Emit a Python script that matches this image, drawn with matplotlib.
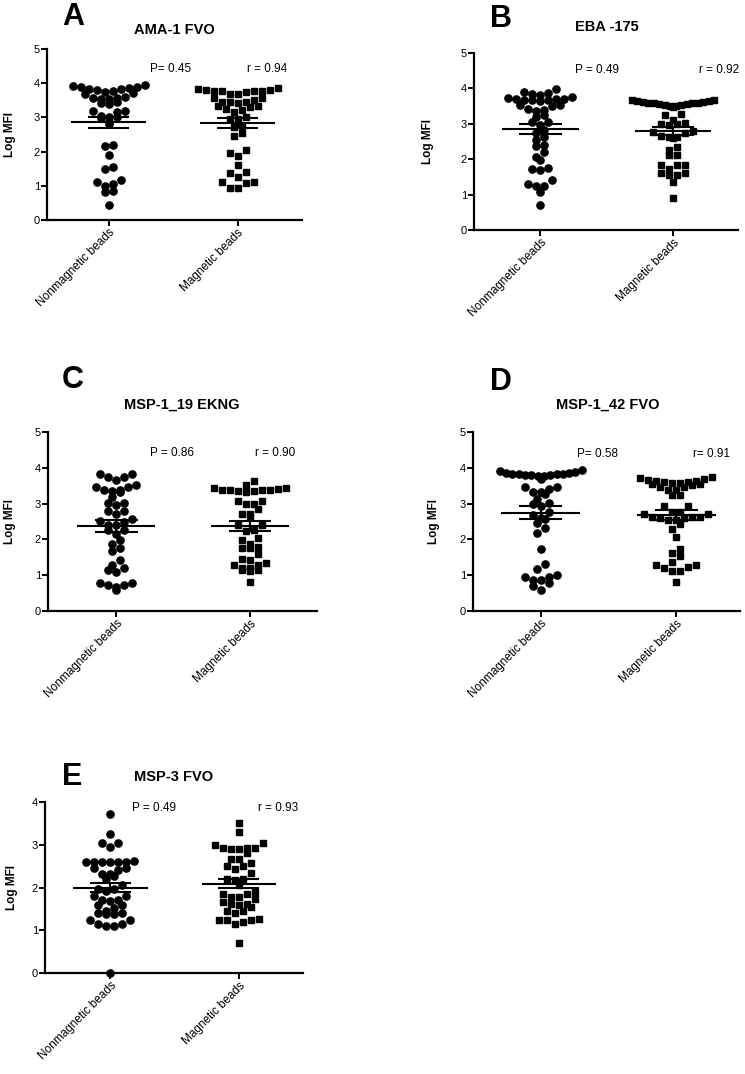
import numpy as np
import matplotlib.pyplot as plt

plt.rcParams['font.family'] = ['Liberation Sans', 'DejaVu Sans']

# ---- data (Log MFI) ----
groups = ['Nonmagnetic beads', 'Magnetic beads']
letters = ['A', 'B', 'C', 'D', 'E']
antigens = ['AMA-1 FVO', 'EBA -175', 'MSP-1_19 EKNG', 'MSP-1_42 FVO', 'MSP-3 FVO']
p_labels = ['P= 0.45', 'P = 0.49', 'P = 0.86', 'P= 0.58', 'P = 0.49']
r_labels = ['r = 0.94', 'r = 0.92', 'r = 0.90', 'r= 0.91', 'r = 0.93']
y_max = [5, 5, 5, 5, 4]

ama1_nonmag = [3.94, 3.92, 3.9, 3.9, 3.85, 3.82, 3.82, 3.8, 3.78, 3.75, 3.7, 3.68, 3.6,
               3.58, 3.58, 3.55, 3.55, 3.45, 3.42, 3.4, 3.2, 3.18, 3.15, 3.05, 3.02, 3.0,
               2.97, 2.87, 2.8, 2.2, 2.15, 1.9, 1.55, 1.5, 1.17, 1.1, 1.05, 1.0, 0.85,
               0.82, 0.45]
ama1_mag = [3.87, 3.82, 3.8, 3.8, 3.78, 3.78, 3.78, 3.78, 3.75, 3.68, 3.68, 3.56, 3.56,
            3.52, 3.45, 3.45, 3.45, 3.42, 3.33, 3.33, 3.3, 3.25, 3.22, 3.15, 3.02, 2.95,
            2.95, 2.75, 2.72, 2.55, 2.45, 2.05, 1.95, 1.88, 1.62, 1.4, 1.38, 1.25, 1.1,
            1.08, 1.1, 0.93, 0.93]
eba175_nonmag = [3.97, 3.9, 3.88, 3.85, 3.82, 3.75, 3.72, 3.7, 3.7, 3.7, 3.68, 3.68,
                 3.68, 3.65, 3.52, 3.52, 3.5, 3.43, 3.38, 3.36, 3.24, 3.18, 3.05, 3.05,
                 2.96, 2.82, 2.75, 2.63, 2.54, 2.4, 2.38, 2.2, 2.07, 1.98, 1.74, 1.72,
                 1.7, 1.4, 1.3, 1.25, 1.24, 1.08, 0.7]
eba175_mag = [3.63, 3.62, 3.6, 3.58, 3.56, 3.53, 3.5, 3.48, 3.5, 3.53, 3.56, 3.58, 3.6,
              3.62, 3.63, 3.68, 3.66, 3.27, 3.25, 3.12, 3.02, 3.0, 3.0, 2.98, 2.8, 2.77,
              2.75, 2.65, 2.62, 2.6, 2.62, 2.35, 2.27, 2.12, 2.12, 1.85, 1.83, 1.83,
              1.73, 1.6, 1.6, 1.55, 1.55, 1.37, 0.9]
msp119_nonmag = [3.82, 3.82, 3.74, 3.74, 3.65, 3.53, 3.46, 3.46, 3.39, 3.39, 3.35, 3.32,
                 3.18, 3.02, 3.02, 2.95, 2.8, 2.8, 2.7, 2.58, 2.52, 2.49, 2.4, 2.4, 2.26,
                 2.26, 2.15, 1.98, 1.87, 1.75, 1.67, 1.42, 1.28, 1.19, 1.14, 1.08, 0.79,
                 0.79, 0.72, 0.72, 0.68, 0.6]
msp119_mag = [3.63, 3.53, 3.44, 3.42, 3.39, 3.37, 3.34, 3.32, 3.34, 3.37, 3.39, 3.43,
              3.07, 3.07, 2.98, 2.98, 2.86, 2.72, 2.72, 2.63, 2.4, 2.4, 2.27, 2.23, 2.05,
              1.98, 1.88, 1.79, 1.75, 1.75, 1.6, 1.45, 1.42, 1.35, 1.28, 1.28, 1.19,
              1.19, 1.14, 1.14, 1.12, 0.81]
msp142_nonmag = [3.93, 3.88, 3.85, 3.83, 3.82, 3.8, 3.77, 3.68, 3.77, 3.8, 3.8, 3.82,
                 3.84, 3.86, 3.9, 3.47, 3.47, 3.42, 3.33, 3.33, 3.26, 3.14, 3.03, 2.98,
                 2.93, 2.77, 2.68, 2.59, 2.57, 2.45, 2.33, 2.17, 1.73, 1.31,
                 1.16, 1.0, 0.94, 0.94, 0.86, 0.86, 0.77, 0.7, 0.6]
msp142_mag = [3.72, 3.68, 3.64, 3.6, 3.57, 3.54, 3.52, 3.54, 3.57, 3.6, 3.63, 3.66, 3.75,
              3.47, 3.47, 3.38, 3.38, 3.24, 3.24, 2.93, 2.93, 2.77, 2.77, 2.72, 2.72,
              2.63, 2.63, 2.62, 2.6, 2.6, 2.54, 2.54, 2.43, 2.28, 2.07, 1.72, 1.63, 1.53,
              1.38, 1.28, 1.28, 1.24, 1.19, 1.12, 1.12, 0.81]
msp3_nonmag = [3.71, 3.25, 3.03, 3.03, 2.95, 2.6, 2.6, 2.6, 2.6, 2.6, 2.6, 2.62, 2.46,
               2.46, 2.4, 2.32, 2.32, 2.27, 2.2, 2.06, 1.96, 1.96, 1.92, 1.79, 1.79, 1.71,
               1.71, 1.69, 1.59, 1.59, 1.52, 1.44, 1.4, 1.4, 1.37, 1.37, 1.23, 1.23,
               1.14, 1.14, 1.09, 1.09, 0.0]
msp3_mag = [3.5, 3.3, 3.05, 3.0, 2.92, 2.92, 2.92, 2.9, 2.9, 2.8, 2.66, 2.66, 2.57, 2.51,
            2.51, 2.43, 2.33, 2.21, 2.21, 2.18, 2.06, 1.9, 1.85, 1.85, 1.77, 1.77, 1.72,
            1.65, 1.62, 1.62, 1.59, 1.55, 1.46, 1.44, 1.4, 1.27, 1.23, 1.23, 1.23, 1.2,
            1.14, 0.7]

nonmag = [ama1_nonmag, eba175_nonmag, msp119_nonmag, msp142_nonmag, msp3_nonmag]
mag = [ama1_mag, eba175_mag, msp119_mag, msp142_mag, msp3_mag]

# ---- layout in pixels (figure is 745 x 1074) ----
W, H = 745, 1074
# axes box: left, top, right, bottom (px)
boxes = [(47, 49, 302, 220), (474, 53, 738, 230), (48, 432, 317, 611),
         (473, 432, 740, 611), (45, 802, 303, 973)]
xlims = [(-0.48, 1.5), (-0.5, 1.49), (-0.51, 1.5), (-0.5, 1.47), (-0.51, 1.5)]
letter_pos = [(62, 25), (490, 27), (62, 388), (490, 390), (62, 785)]
title_pos = [(174, 30), (607, 27), (182, 405), (608, 405), (174, 777)]
p_pos = [(150, 69), (575, 70), (150, 453), (577, 454), (132, 808)]
r_pos = [(247, 69), (699, 70), (255, 453), (693, 454), (258, 808)]
ylab_x = [16, 434, 16, 440, 18]   # right edge of the rotated "Log MFI"


def fx(px):
    return px / W


def fy(py):
    return 1 - py / H


def row_scatter(ax, xc, values, row_px, step_px, max_w):
    """GraphPad-like scatter: group values into rows of height row_px, spread each row
    around the centre (step_px apart, at most max_w wide), lowest values in the middle."""
    ys = ax.transData.transform(np.column_stack([np.full(len(values), xc), values]))[:, 1]
    order = np.argsort(-ys, kind='stable')
    rows, cur = [], [order[0]]
    for i in order[1:]:
        if ys[cur[0]] - ys[i] < row_px:
            cur.append(i)
        else:
            rows.append(cur)
            cur = [i]
    rows.append(cur)
    offs = np.zeros(len(values))
    for row in rows:
        n = len(row)
        step = step_px if n < 2 else min(step_px, max_w / (n - 1))
        slots = (np.arange(n) - (n - 1) / 2) * step
        slots = sorted(slots, key=lambda s: (round(abs(s), 6), s))
        for s, i in zip(slots, sorted(row, key=lambda i: ys[i])):
            offs[i] = s
    unit = ax.transData.transform([(1, 0)])[0, 0] - ax.transData.transform([(0, 0)])[0, 0]
    return offs / unit


fig = plt.figure(figsize=(7.45, 10.74), dpi=100)

for k in range(5):
    l, t, r, b = boxes[k]
    ax = fig.add_axes([fx(l), fy(b), (r - l) / W, (b - t) / H])
    ax.set_xlim(*xlims[k])
    ax.set_ylim(0, y_max[k])
    ax.spines['top'].set_visible(False)
    ax.spines['right'].set_visible(False)
    for s in ['left', 'bottom']:
        ax.spines[s].set_linewidth(1.6)
    ax.tick_params(width=1.4, length=4, labelsize=8, pad=1)
    ax.set_yticks(range(0, y_max[k] + 1))
    ax.set_xticks([0, 1])
    ax.set_xticklabels(groups, rotation=45, ha='right', rotation_mode='anchor', fontsize=8.5)

    for j, (vals, mk, ms) in enumerate([(nonmag[k], 'o', 5.2), (mag[k], 's', 4.6)]):
        v = np.array(vals)
        off = row_scatter(ax, j, v, 6.5, 8.0, 82)
        ax.plot(j + off, v, linestyle='none', marker=mk, ms=ms, color='black',
                clip_on=False, zorder=2)
        m = v.mean()
        sem = v.std(ddof=1) / np.sqrt(len(v))
        ax.hlines(m, j - 0.29, j + 0.29, color='black', lw=1.5, zorder=3)
        ax.hlines([m - sem, m + sem], j - 0.16, j + 0.16, color='black', lw=1.5, zorder=3)
        ax.vlines(j, m - sem, m + sem, color='black', lw=1.5, zorder=3)

    ax.set_ylabel('Log MFI', fontsize=8.5, fontweight='bold')
    ax.yaxis.set_label_coords((ylab_x[k] - l) / (r - l), 0.5)

    fig.text(fx(letter_pos[k][0]), fy(letter_pos[k][1]), letters[k], fontsize=22,
             fontweight='bold', ha='left', va='baseline')
    fig.text(fx(title_pos[k][0]), fy(title_pos[k][1]), antigens[k], fontsize=10.5,
             fontweight='bold', ha='center', va='center')
    fig.text(fx(p_pos[k][0]), fy(p_pos[k][1]), p_labels[k], fontsize=8.5,
             ha='left', va='center')
    fig.text(fx(r_pos[k][0]), fy(r_pos[k][1]), r_labels[k], fontsize=8.5,
             ha='left', va='center')

fig.savefig('out.png', dpi=100)
plt.close(fig)
